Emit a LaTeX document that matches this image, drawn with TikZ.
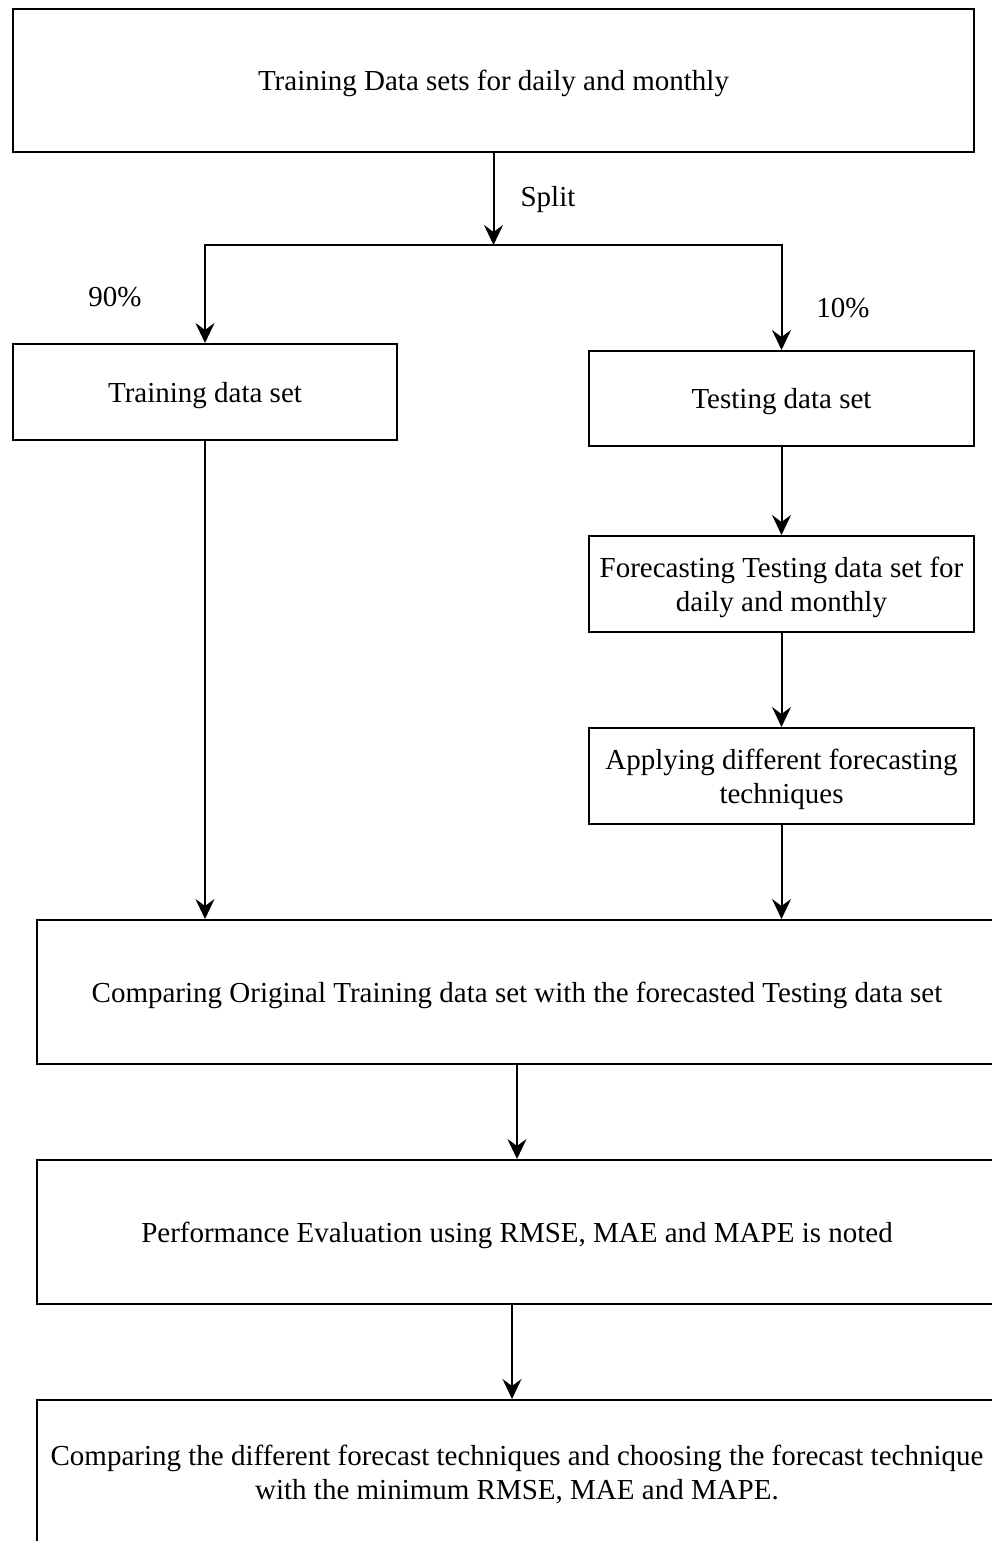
\documentclass[tikz,border=0pt]{standalone}
\usepackage{fontspec}
\setmainfont{Liberation Serif}
\usetikzlibrary{arrows.meta}
\begin{document}
\begin{tikzpicture}[x=1pt,y=-1pt,
  box/.style={draw, line width=2pt, rectangle, inner sep=0pt, align=center,
    text depth=-8pt, font=\fontsize{29}{34}\selectfont},
  lbl/.style={font=\fontsize{29}{34}\selectfont, inner sep=0pt},
  arr/.style={line width=2pt, -{Stealth[length=20pt,width=19pt,inset=7pt]}}]
\clip (0,0) rectangle (992,1541);
\fill[white] (0,0) rectangle (992,1541);

\node[box, minimum width=961pt, minimum height=143pt] (top) at (493.5,80.5)
  {Training Data sets for daily and monthly};
\node[box, minimum width=384pt, minimum height=96pt] (train) at (205,392)
  {Training data set};
\node[box, minimum width=385pt, minimum height=95pt] (test) at (781.5,398.5)
  {Testing data set};
\node[box, minimum width=385pt, minimum height=96pt] (fore) at (781.5,584)
  {Forecasting Testing data set for\\daily and monthly};
\node[box, minimum width=385pt, minimum height=96pt] (apply) at (781.5,776)
  {Applying different forecasting\\techniques};
\node[box, minimum width=960pt, minimum height=144pt] (cmp) at (517,992)
  {Comparing Original Training data set with the forecasted Testing data set};
\node[box, minimum width=960pt, minimum height=144pt] (perf) at (517,1232)
  {Performance Evaluation using RMSE, MAE and MAPE is noted};
\node[box, minimum width=960pt, minimum height=144pt] (last) at (517,1472)
  {Comparing the different forecast techniques and choosing the forecast technique\\with the minimum RMSE, MAE and MAPE.};

\coordinate (split) at (493.5,245);
\draw[arr] (top.south) -- (split);
\draw[arr] (split) -| (train.north);
\draw[arr] (split) -| (test.north);
\node[lbl] (splitlbl) at (548,200) {Split};
\node[lbl] (p90) at (115,297) {90\%};
\node[lbl] (p10) at (843,308) {10\%};

\draw[arr] (test.south) -- (fore.north);
\draw[arr] (fore.south) -- (apply.north);
\draw[arr] (apply.south) -- (apply.south |- cmp.north);
\draw[arr] (train.south) -- (train.south |- cmp.north);
\draw[arr] (cmp.south) -- (perf.north);
\draw[arr] ([xshift=-5pt]perf.south) -- ([xshift=-5pt]last.north);
\end{tikzpicture}
\end{document}
